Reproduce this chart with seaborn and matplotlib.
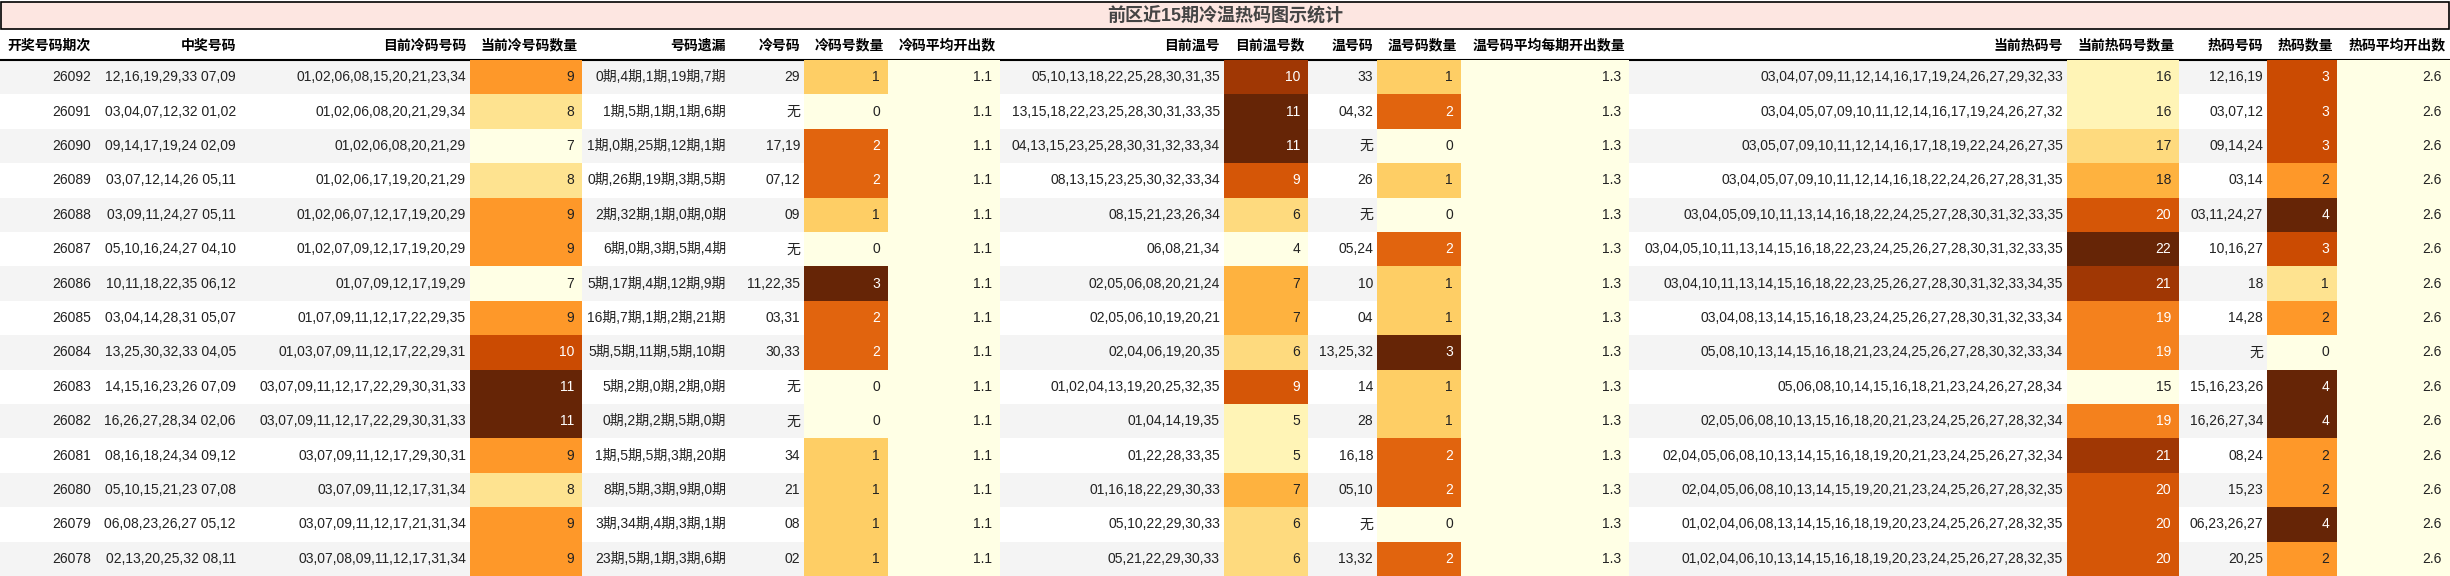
import numpy as np
import pandas as pd
import matplotlib
matplotlib.use("Agg")
import matplotlib.pyplot as plt
from matplotlib import font_manager
import seaborn as sns

sns.set_theme(style="white")
names = {f.name for f in font_manager.fontManager.ttflist}
base = 'Liberation Sans Narrow' if 'Liberation Sans Narrow' in names else 'Liberation Sans'
FAM = [base, 'Noto Sans CJK SC', 'DejaVu Sans']
plt.rcParams['font.family'] = FAM

title = "前区近15期冷温热码图示统计"
headers = ["开奖号码期次", "中奖号码", "目前冷码号码", "当前冷号码数量", "号码遗漏", "冷号码", "冷码号数量",
           "冷码平均开出数", "目前温号", "目前温号数", "温号码", "温号码数量", "温号码平均每期开出数量",
           "当前热码号", "当前热码号数量", "热码号码", "热码数量", "热码平均开出数"]

periods = ["26092","26091","26090","26089","26088","26087","26086","26085","26084","26083","26082","26081","26080","26079","26078"]
winning = ["12,16,19,29,33 07,09","03,04,07,12,32 01,02","09,14,17,19,24 02,09","03,07,12,14,26 05,11",
           "03,09,11,24,27 05,11","05,10,16,24,27 04,10","10,11,18,22,35 06,12","03,04,14,28,31 05,07",
           "13,25,30,32,33 04,05","14,15,16,23,26 07,09","16,26,27,28,34 02,06","08,16,18,24,34 09,12",
           "05,10,15,21,23 07,08","06,08,23,26,27 05,12","02,13,20,25,32 08,11"]
cold_nums = ["01,02,06,08,15,20,21,23,34","01,02,06,08,20,21,29,34","01,02,06,08,20,21,29","01,02,06,17,19,20,21,29",
             "01,02,06,07,12,17,19,20,29","01,02,07,09,12,17,19,20,29","01,07,09,12,17,19,29","01,07,09,11,12,17,22,29,35",
             "01,03,07,09,11,12,17,22,29,31","03,07,09,11,12,17,22,29,30,31,33","03,07,09,11,12,17,22,29,30,31,33",
             "03,07,09,11,12,17,29,30,31","03,07,09,11,12,17,31,34","03,07,09,11,12,17,21,31,34","03,07,08,09,11,12,17,31,34"]
cold_cnt = [9,8,7,8,9,9,7,9,10,11,11,9,8,9,9]
miss = ["0期,4期,1期,19期,7期","1期,5期,1期,1期,6期","1期,0期,25期,12期,1期","0期,26期,19期,3期,5期",
        "2期,32期,1期,0期,0期","6期,0期,3期,5期,4期","5期,17期,4期,12期,9期","16期,7期,1期,2期,21期",
        "5期,5期,11期,5期,10期","5期,2期,0期,2期,0期","0期,2期,2期,5期,0期","1期,5期,5期,3期,20期",
        "8期,5期,3期,9期,0期","3期,34期,4期,3期,1期","23期,5期,1期,3期,6期"]
cold_hit = ["29","无","17,19","07,12","09","无","11,22,35","03,31","30,33","无","无","34","21","08","02"]
cold_hit_cnt = [1,0,2,2,1,0,3,2,2,0,0,1,1,1,1]
cold_avg = [1.1]*15
warm_nums = ["05,10,13,18,22,25,28,30,31,35","13,15,18,22,23,25,28,30,31,33,35","04,13,15,23,25,28,30,31,32,33,34",
             "08,13,15,23,25,30,32,33,34","08,15,21,23,26,34","06,08,21,34","02,05,06,08,20,21,24","02,05,06,10,19,20,21",
             "02,04,06,19,20,35","01,02,04,13,19,20,25,32,35","01,04,14,19,35","01,22,28,33,35","01,16,18,22,29,30,33",
             "05,10,22,29,30,33","05,21,22,29,30,33"]
warm_cnt = [10,11,11,9,6,4,7,7,6,9,5,5,7,6,6]
warm_hit = ["33","04,32","无","26","无","05,24","10","04","13,25,32","14","28","16,18","05,10","无","13,32"]
warm_hit_cnt = [1,2,0,1,0,2,1,1,3,1,1,2,2,0,2]
warm_avg = [1.3]*15
hot_nums = ["03,04,07,09,11,12,14,16,17,19,24,26,27,29,32,33","03,04,05,07,09,10,11,12,14,16,17,19,24,26,27,32",
            "03,05,07,09,10,11,12,14,16,17,18,19,22,24,26,27,35","03,04,05,07,09,10,11,12,14,16,18,22,24,26,27,28,31,35",
            "03,04,05,09,10,11,13,14,16,18,22,24,25,27,28,30,31,32,33,35","03,04,05,10,11,13,14,15,16,18,22,23,24,25,26,27,28,30,31,32,33,35",
            "03,04,10,11,13,14,15,16,18,22,23,25,26,27,28,30,31,32,33,34,35","03,04,08,13,14,15,16,18,23,24,25,26,27,28,30,31,32,33,34",
            "05,08,10,13,14,15,16,18,21,23,24,25,26,27,28,30,32,33,34","05,06,08,10,14,15,16,18,21,23,24,26,27,28,34",
            "02,05,06,08,10,13,15,16,18,20,21,23,24,25,26,27,28,32,34","02,04,05,06,08,10,13,14,15,16,18,19,20,21,23,24,25,26,27,32,34",
            "02,04,05,06,08,10,13,14,15,19,20,21,23,24,25,26,27,28,32,35","01,02,04,06,08,13,14,15,16,18,19,20,23,24,25,26,27,28,32,35",
            "01,02,04,06,10,13,14,15,16,18,19,20,23,24,25,26,27,28,32,35"]
hot_cnt = [16,16,17,18,20,22,21,19,19,15,19,21,20,20,20]
hot_hit = ["12,16,19","03,07,12","09,14,24","03,14","03,11,24,27","10,16,27","18","14,28","无","15,16,23,26",
           "16,26,27,34","08,24","15,23","06,23,26,27","20,25"]
hot_hit_cnt = [3,3,3,2,4,3,1,2,0,4,4,2,2,4,2]
hot_avg = [2.6]*15

text_cols = {0: periods, 1: winning, 2: cold_nums, 4: miss, 5: cold_hit, 8: warm_nums, 10: warm_hit, 13: hot_nums, 15: hot_hit}
heat_cols = {3: (cold_cnt, None), 6: (cold_hit_cnt, None), 7: (cold_avg, "f"), 9: (warm_cnt, None),
             11: (warm_hit_cnt, None), 12: (warm_avg, "f"), 14: (hot_cnt, None), 16: (hot_hit_cnt, None), 17: (hot_avg, "f")}

W, H = 2450, 576
edges = [0, 95, 240, 470, 582, 730, 804, 888, 1000, 1224, 1308, 1377, 1461, 1629, 2067, 2179, 2267, 2337, 2450]
TOP, HEAD, Y0 = 2, 29, 60
n = len(periods)
rh = (H - Y0) / n
FS = 10 if base == 'Liberation Sans' else 12.5
HFS = 10

fig = plt.figure(figsize=(W/100, H/100), dpi=100)
ax = fig.add_axes([0, 0, 1, 1])
ax.set_xlim(0, W); ax.set_ylim(H, 0); ax.axis('off')

ax.add_patch(plt.Rectangle((1, TOP), W-2, HEAD-TOP, facecolor='#fde6e1', edgecolor='black', lw=1.2))
ax.text(W/2, (TOP+HEAD)/2+1, title, ha='center', va='center', fontsize=13, fontweight='bold', color='#444444')
for i in range(n):
    ax.add_patch(plt.Rectangle((0, Y0+i*rh), W, rh, facecolor='#f4f4f4' if i % 2 == 0 else 'white', lw=0))
ax.plot([0, W], [Y0, Y0], color='black', lw=1.5)
for j, h in enumerate(headers):
    ax.text(edges[j+1]-4, (HEAD+Y0)/2+1, h, ha='right', va='center', fontsize=HFS, fontweight='bold', color='black')
for j, vals in text_cols.items():
    for i, v in enumerate(vals):
        ax.text(edges[j+1]-4, Y0+(i+0.5)*rh, v, ha='right', va='center', fontsize=FS, color='#222222')

for j, (vals, kind) in heat_cols.items():
    arr = np.array(vals, dtype=float)
    if kind == "f":
        vmin, vmax = arr.min(), arr.min() + 1
    else:
        vmin, vmax = arr.min(), arr.max()
    x0, x1 = edges[j], edges[j+1]
    hax = fig.add_axes([x0/W, 0, (x1-x0)/W, (H-Y0)/H])
    df = pd.DataFrame({'v': arr})
    sns.heatmap(df, ax=hax, cmap='YlOrBr', vmin=vmin, vmax=vmax, cbar=False,
                xticklabels=False, yticklabels=False, linewidths=0)
    hax.axis('off')
    for i, v in enumerate(arr):
        frac = (v - vmin) / (vmax - vmin) if vmax > vmin else 0
        col = 'white' if frac > 0.55 else '#222222'
        s = f"{v:.1f}" if kind == "f" else f"{int(v)}"
        hax.text(1 - 8/(x1-x0), i + 0.5, s, ha='right', va='center', fontsize=FS, color=col)

fig.savefig("out.png", dpi=100)
